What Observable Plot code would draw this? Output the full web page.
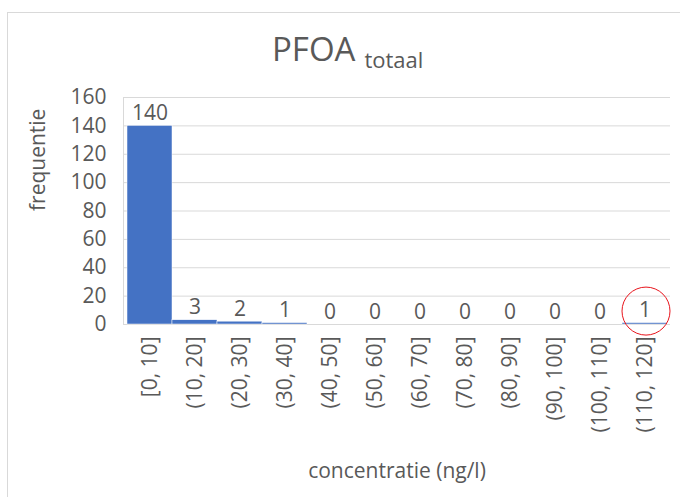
<!DOCTYPE html>
<html>
<head>
<meta charset="utf-8">
<script src="https://cdn.jsdelivr.net/npm/d3@7"></script>
<script src="https://cdn.jsdelivr.net/npm/@observablehq/plot@0.6"></script>
<style>
  html, body { margin: 0; padding: 0; background: #fff; }
  #wrap { position: relative; width: 680px; height: 497px; overflow: hidden; font-family: "Open Sans", sans-serif; }
  #border { position: absolute; left: 7px; top: 12px; width: 700px; height: 500px; border-left: 1px solid #d9d9d9; border-top: 1px solid #d9d9d9; }
  #title { position: absolute; left: 272px; top: 32px; color: #595959; font-size: 33px; white-space: nowrap; line-height: 1; }
  #title sub { font-size: 22px; vertical-align: -7px; margin-left: 9px; }
  #chart { position: absolute; left: 0; top: 0; }
</style>
</head>
<body>
<div id="wrap">
  <div id="border"></div>
  <div id="chart"></div>
  <div id="title">PFOA<sub>totaal</sub></div>
</div>
<script>
const categories = ["[0, 10]", "(10, 20]", "(20, 30]", "(30, 40]", "(40, 50]", "(50, 60]", "(60, 70]", "(70, 80]", "(80, 90]", "(90, 100]", "(100, 110]", "(110, 120]"];
const frequencies = [140, 3, 2, 1, 0, 0, 0, 0, 0, 0, 0, 1];
const yTicks = [0, 20, 40, 60, 80, 100, 120, 140, 160];
const highlighted = ["(110, 120]"];

const data = categories.map((c, i) => ({category: c, value: frequencies[i]}));
const hl = data.filter(d => highlighted.includes(d.category));
const textColor = "#595959";

const chart = Plot.plot({
  width: 680,
  height: 497,
  marginLeft: 123,
  marginRight: 10,
  marginTop: 97,
  marginBottom: 173,
  style: {fontFamily: "Open Sans, sans-serif", fontSize: "21px", color: textColor, background: "transparent"},
  x: {type: "band", domain: categories, padding: 0, label: null},
  y: {domain: [0, 160], label: null},
  marks: [
    Plot.ruleY(yTicks, {stroke: "#d9d9d9", strokeWidth: 1}),
    Plot.frame({anchor: "left", stroke: "#d9d9d9"}),
    Plot.barY(data, {x: "category", y: "value", fill: "#4472C4", stroke: "#fff", strokeWidth: 0.5}),
    Plot.text(data, {x: "category", y: "value", text: d => String(d.value), lineAnchor: "bottom", dy: -6, fill: textColor, fontSize: 21}),
    Plot.dot(hl, {x: "category", y: "value", r: 24, stroke: "#e8141c", fill: "none", strokeWidth: 1, dy: -12, dx: 1}),
    Plot.axisY({ticks: yTicks, tickSize: 0, tickPadding: 17, fontSize: 21, fill: textColor, label: null}),
    Plot.axisX({tickRotate: -90, tickSize: 0, tickPadding: 12, fontSize: 21, fill: textColor, label: null}),
    Plot.text(["concentratie (ng/l)"], {frameAnchor: "bottom", dy: 153, text: d => d, fontSize: 21, fill: textColor}),
    Plot.text(["frequentie"], {frameAnchor: "left", dx: -85, rotate: -90, text: d => d, fontSize: 21, fill: textColor})
  ]
});
document.getElementById("chart").appendChild(chart);
</script>
</body>
</html>
